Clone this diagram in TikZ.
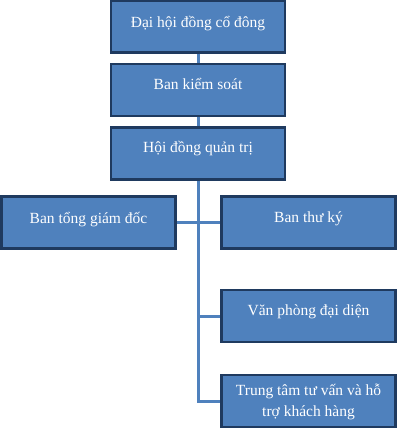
\documentclass[tikz,border=0pt]{standalone}
\usepackage{fontspec}
\setmainfont{Liberation Serif}
\definecolor{boxfill}{HTML}{4F81BD}
\definecolor{boxline}{HTML}{1F3A5F}
\definecolor{conn}{HTML}{4F81BD}
\begin{document}
\begin{tikzpicture}[x=1pt,y=-1pt,
  box/.style={draw=boxline, line width=2.5pt, fill=boxfill, minimum width=174pt, minimum height=52pt, inner sep=0pt},
  txt/.style={text=white, font=\fontsize{15.5}{21}\selectfont, align=center, inner sep=0pt},
  link/.style={draw=conn, line width=3pt}]
\useasboundingbox (0,0) rectangle (405,438);
\node[box] (b1) at (198,26.5) {};
\node[box] (b2) at (198,90) {};
\node[box] (b3) at (198,153.5) {};
\node[box] (bl) at (88.5,222.5) {};
\node[box] (br) at (308.5,222.5) {};
\node[box] (bv) at (308.5,316) {};
\node[box] (bt) at (308.5,401) {};
\coordinate (jend) at (198,401);
\coordinate (jv) at (198,316);
\coordinate (jt) at (198,401);
\draw[link] (b1.south) -- (b2.north);
\draw[link] (b2.south) -- (b3.north);
\draw[link] (b3.south) -- ([yshift=-1.5pt]jend);
\draw[link] (bl.east) -- (br.west);
\draw[link] (jv) -- (bv.west);
\draw[link] (jt) -- (bt.west);
\node[txt] (t1) at ([yshift=-24pt]b1.north) {Đại hội đồng cổ đông};
\node[txt] (t2) at ([yshift=-21pt]b2.north) {Ban kiểm soát};
\node[txt] (t3) at ([yshift=-22pt]b3.north) {Hội đồng quản trị};
\node[txt] (tl) at ([yshift=-24pt]bl.north) {Ban tổng giám đốc};
\node[txt] (tr) at ([yshift=-24pt]br.north) {Ban thư ký};
\node[txt] (tv) at ([yshift=-23pt]bv.north) {Văn phòng đại diện};
\node[txt] (tt) at ([yshift=-28pt]bt.north) {Trung tâm tư vấn và hỗ\\trợ khách hàng};
\end{tikzpicture}
\end{document}
